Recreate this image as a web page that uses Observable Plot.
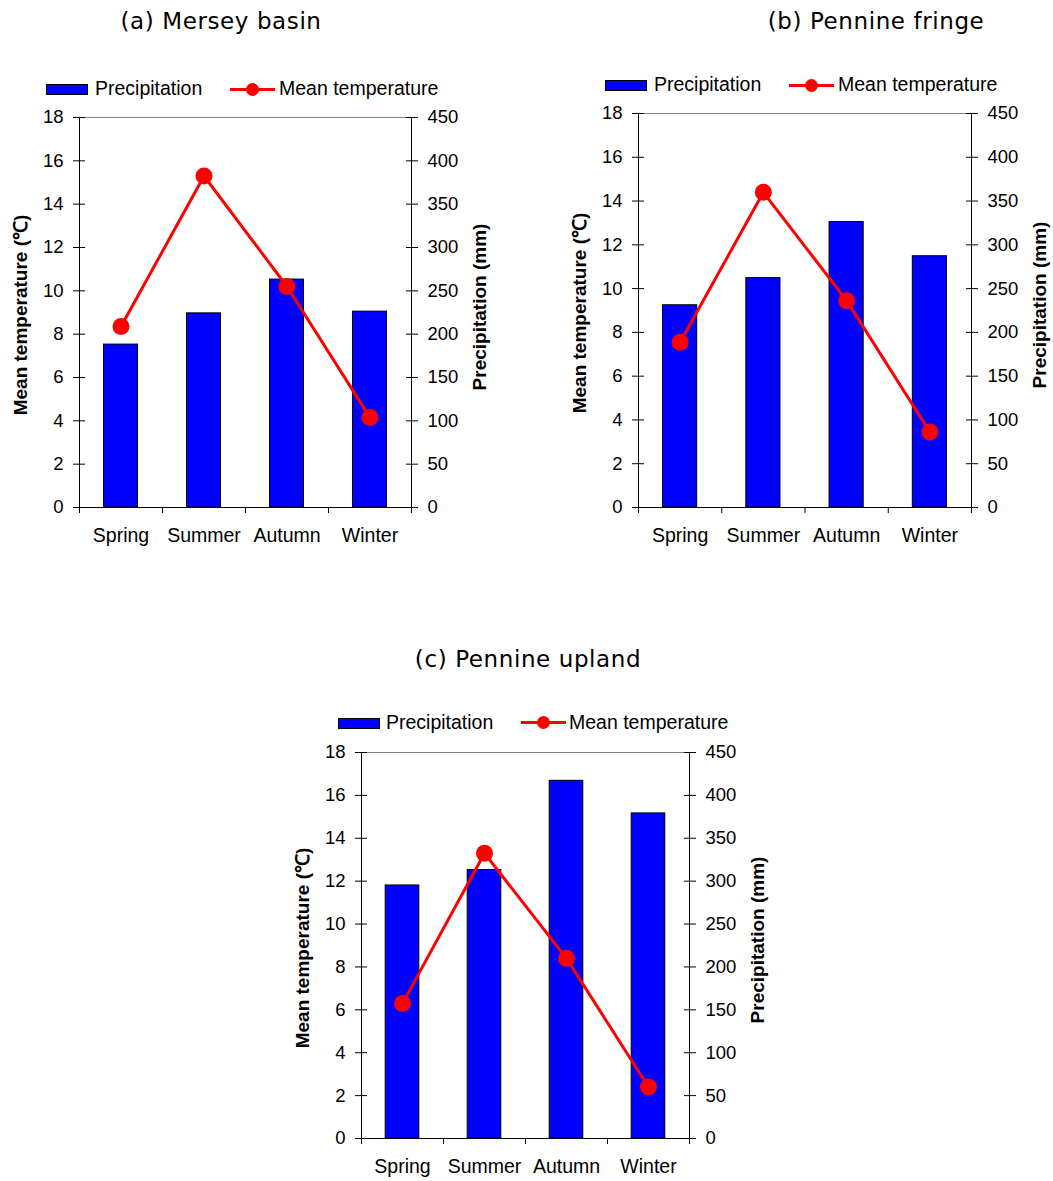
<!DOCTYPE html>
<html><head><meta charset="utf-8">
<script src="https://cdn.jsdelivr.net/npm/d3@7"></script>
<script src="https://cdn.jsdelivr.net/npm/@observablehq/plot@0.6"></script>
<style>
body{margin:0;background:#fff;}
#page{position:relative;width:1053px;height:1181px;overflow:hidden;font-family:"Liberation Sans",Arial,sans-serif;color:#000;background:#fff;}
.abs{position:absolute;white-space:nowrap;line-height:1;}
.title{font-family:"DejaVu Sans",Verdana,sans-serif;font-size:23px;letter-spacing:0.6px;transform:translate(-50%,-50%);}
.ylab{font-weight:bold;font-size:19px;transform:translate(-50%,-50%) rotate(-90deg);}
.leg{font-size:19.5px;transform:translateY(-50%);}
.swatch{position:absolute;box-sizing:border-box;background:#0000ff;border:1px solid #000;}
.lline{position:absolute;background:#ff0000;height:3px;}
.ldot{position:absolute;background:#ff0000;border-radius:50%;}
svg{position:absolute;overflow:visible;}
</style></head><body><div id="page"></div>
<script>
// ---- data ----
const seasons = ["Spring", "Summer", "Autumn", "Winter"];
const panelTitles = ["(a) Mersey basin", "(b) Pennine fringe", "(c) Pennine upland"];
const precipMersey = [188, 224, 263, 226];
const tempMersey = [8.35, 15.3, 10.2, 4.15];
const precipFringe = [231, 262, 326, 287];
const tempFringe = [7.55, 14.4, 9.45, 3.45];
const precipUpland = [295, 313, 417, 379];
const tempUpland = [6.3, 13.3, 8.4, 2.4];
const tempTicks = [0, 2, 4, 6, 8, 10, 12, 14, 16, 18];
const precipPerDegree = 25; // right axis: 450 mm ↔ 18 ℃
const legendLabels = ["Precipitation", "Mean temperature"];
const axisTitles = ["Mean temperature (℃)", "Precipitation (mm)"];

// ---- layout (page pixels) ----
const layouts = [
  {x0: 79, x1: 411, y0: 117, y1: 507, tx: 221, ty: 21, ly: 89, sw: 46, tx1: 95, ln: 230, tx2: 279},
  {x0: 638, x1: 971, y0: 113, y1: 507, tx: 876, ty: 21, ly: 85, sw: 605, tx1: 654, ln: 789, tx2: 838},
  {x0: 361, x1: 689, y0: 752, y1: 1138, tx: 528, ty: 659, ly: 722.5, sw: 338, tx1: 386, ln: 521, tx2: 569}
];
const series = [[precipMersey, tempMersey], [precipFringe, tempFringe], [precipUpland, tempUpland]];

const page = document.getElementById("page");
function addDiv(cls, text, style) {
  const d = document.createElement("div");
  d.className = cls;
  if (text != null) d.textContent = text;
  Object.assign(d.style, style);
  page.appendChild(d);
  return d;
}

layouts.forEach((L, k) => {
  const [precip, temp] = series[k];
  const data = seasons.map((s, i) => ({season: s, i, precip: precip[i], temp: temp[i]}));
  const mL = 80, mR = 90, mT = 20, mB = 50;
  const W = L.x1 - L.x0 + mL + mR, H = L.y1 - L.y0 + mT + mB;
  const chart = Plot.plot({
    width: W, height: H,
    marginLeft: mL, marginRight: mR, marginTop: mT, marginBottom: mB,
    style: {background: "transparent", fontFamily: '"Liberation Sans", Arial, sans-serif', color: "#000", overflow: "visible"},
    x: {domain: [-0.5, 3.5]},
    y: {domain: [0, 18]},
    marks: [
      Plot.rect(data, {x1: d => d.i - 0.205, x2: d => d.i + 0.205, y1: 0, y2: d => d.precip / precipPerDegree, fill: "#0000ff", stroke: "#000", strokeWidth: 1}),
      Plot.frame({stroke: "#000"}),
      Plot.ruleY([18], {stroke: "#808080"}),
      Plot.axisY({anchor: "left", ticks: tempTicks, tickSize: 12, dx: 6, fill: "none", label: null}),
      Plot.axisY({anchor: "left", ticks: tempTicks, tickSize: 0, tickPadding: 16, fontSize: 18.5, label: null}),
      Plot.axisY({anchor: "right", ticks: tempTicks, tickSize: 12, dx: -6, fill: "none", label: null}),
      Plot.axisY({anchor: "right", ticks: tempTicks, tickSize: 0, tickPadding: 16, fontSize: 18.5, tickFormat: d => d * precipPerDegree, label: null}),
      Plot.axisX({ticks: [-0.5, 0.5, 1.5, 2.5, 3.5], tickSize: 6, fill: "none", label: null}),
      Plot.axisX({ticks: [0, 1, 2, 3], tickSize: 0, tickPadding: 21, fontSize: 19.5, tickFormat: i => seasons[i], label: null}),
      Plot.line(data, {x: "i", y: "temp", stroke: "#ff0000", strokeWidth: 3}),
      Plot.dot(data, {x: "i", y: "temp", r: 8.5, fill: "#ff0000", stroke: "none"})
    ]
  });
  chart.style.left = (L.x0 - mL) + "px";
  chart.style.top = (L.y0 - mT) + "px";
  page.appendChild(chart);

  // title
  addDiv("abs title", panelTitles[k], {left: L.tx + "px", top: L.ty + "px"});
  // axis titles
  const cy = (L.y0 + L.y1) / 2;
  addDiv("abs ylab", axisTitles[0], {left: (L.x0 - 59) + "px", top: (cy + 3) + "px"});
  addDiv("abs ylab", axisTitles[1], {left: (L.x1 + 68) + "px", top: (cy - 5) + "px"});
  // legend
  addDiv("swatch", null, {left: L.sw + "px", top: (L.ly - 5) + "px", width: "42px", height: "11px"});
  addDiv("abs leg", legendLabels[0], {left: L.tx1 + "px", top: L.ly + "px"});
  addDiv("lline", null, {left: L.ln + "px", top: (L.ly - 1.5) + "px", width: "45px"});
  addDiv("ldot", null, {left: (L.ln + 22.5 - 6.5) + "px", top: (L.ly - 6.5) + "px", width: "13px", height: "13px"});
  addDiv("abs leg", legendLabels[1], {left: L.tx2 + "px", top: L.ly + "px"});
});
</script></body></html>
